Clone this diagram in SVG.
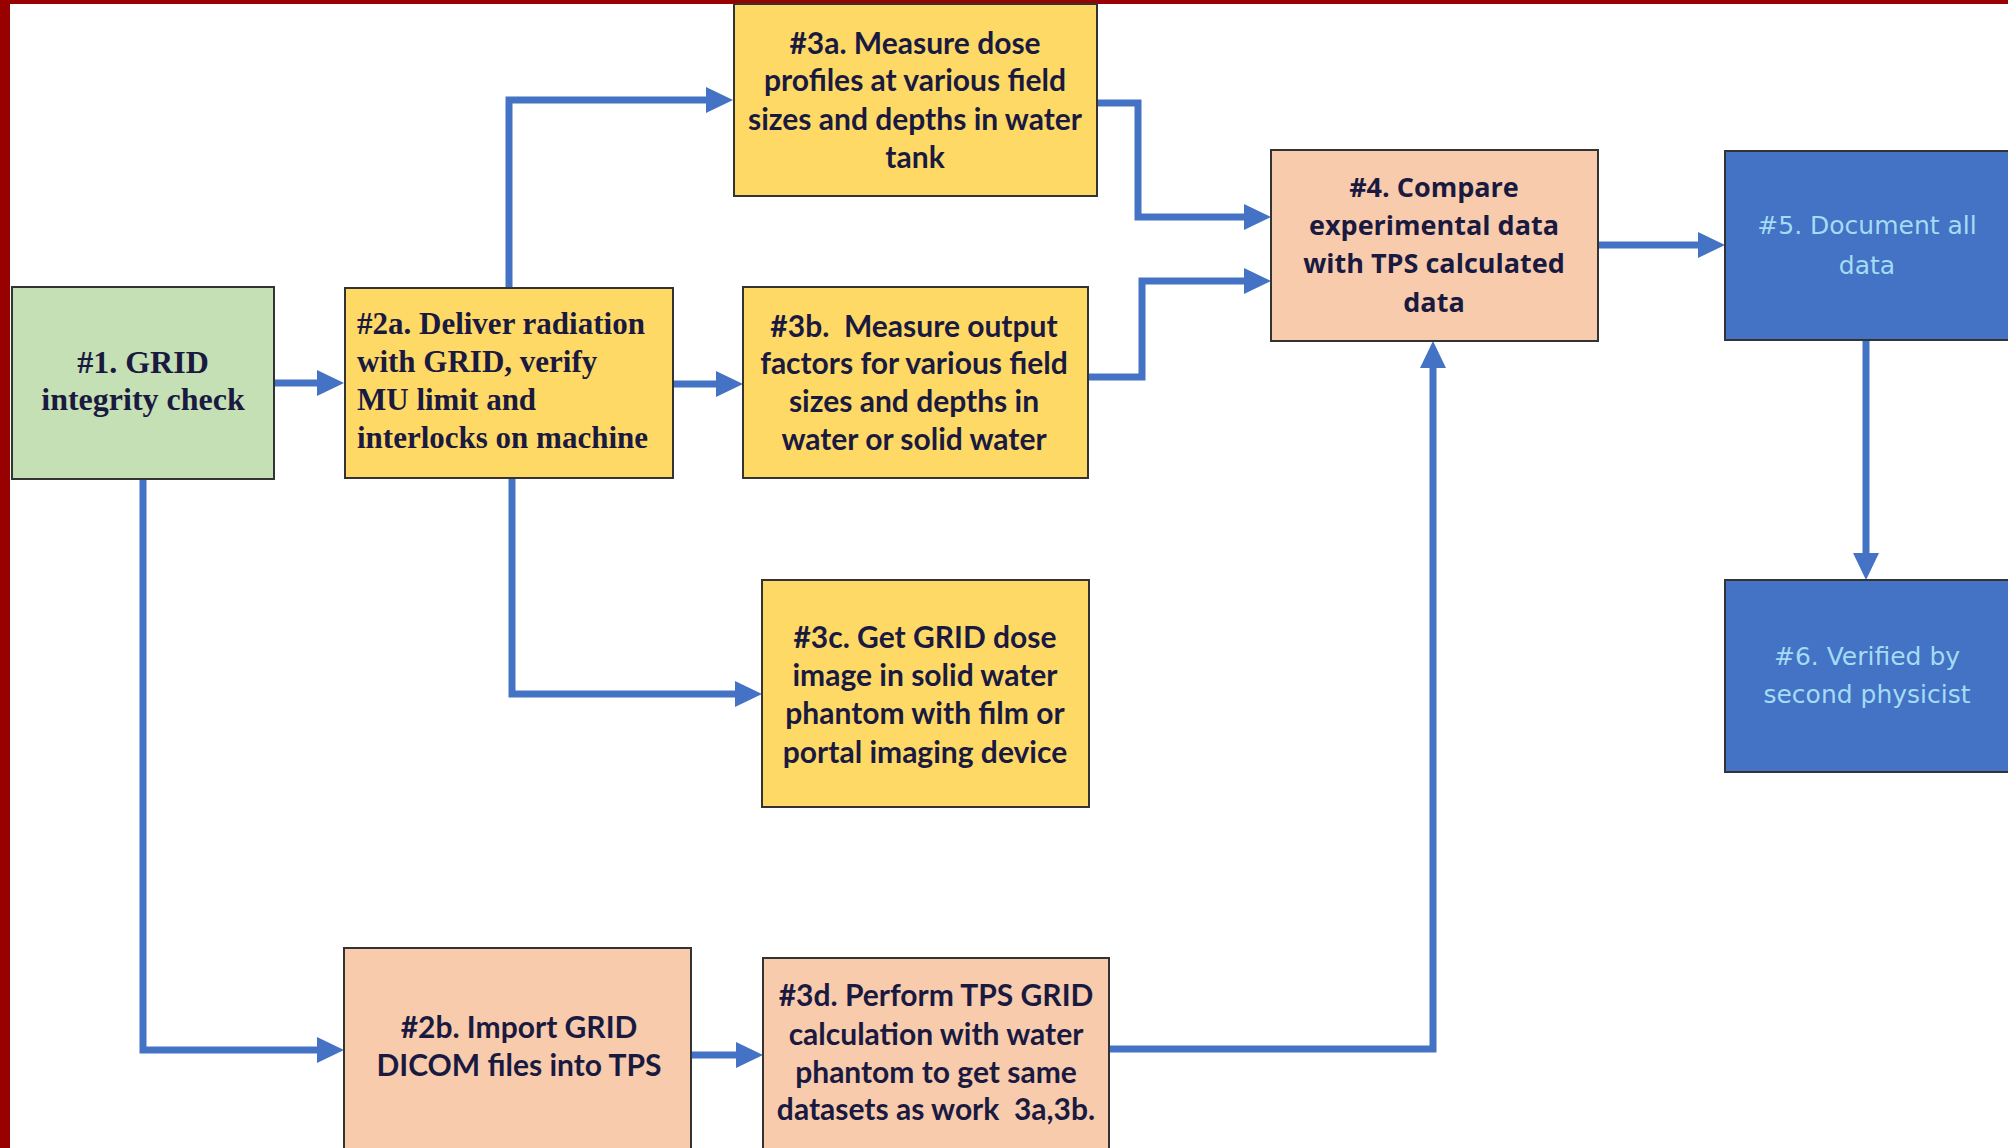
<svg xmlns="http://www.w3.org/2000/svg" width="2008" height="1148" viewBox="0 0 2008 1148">
<defs>
<style>
.box{stroke:#333333;stroke-width:2}
.green{fill:#c5e0b4}
.yellow{fill:#ffd966}
.peach{fill:#f8cbad}
.blue{fill:#4472c4}
.serif{font-family:"Liberation Serif","Times New Roman",serif;font-weight:bold;fill:#1a1a40}
.cal{font-family:Lato,"Liberation Sans",sans-serif;font-weight:bold;font-size:30px;fill:#1a1a40;text-anchor:middle}
.tah{font-family:"Open Sans","Liberation Sans",sans-serif;font-weight:bold;font-size:27px;fill:#1a1a40;text-anchor:middle}
.ver{font-family:"DejaVu Sans","Liberation Sans",sans-serif;font-size:25px;fill:#a3dcf5;text-anchor:middle}
.conn{fill:none;stroke:#4472c4;stroke-width:7;marker-end:url(#arr)}
</style>
<marker id="arr" markerUnits="userSpaceOnUse" markerWidth="27" markerHeight="26" viewBox="0 0 27 26" refX="0" refY="13" orient="auto">
<path d="M0,0 L27,13 L0,26 Z" fill="#4472c4"/>
</marker>
</defs>
<rect x="0" y="0" width="2008" height="1148" fill="#ffffff"/>
<rect x="0" y="0" width="10" height="1148" fill="#990000"/>
<rect x="0" y="0" width="2008" height="4" fill="#990000"/>

<g id="connectors">
<path class="conn" d="M274,383 H317"/>
<path class="conn" d="M509,288 V100 H706"/>
<path class="conn" d="M673,384 H716"/>
<path class="conn" d="M512,478 V694 H735"/>
<path class="conn" d="M143,479 V1050 H317"/>
<path class="conn" d="M691,1055 H736"/>
<path class="conn" d="M1097,103 H1138 V217 H1244"/>
<path class="conn" d="M1088,377 H1142 V281 H1244"/>
<path class="conn" d="M1109,1049 H1433 V368"/>
<path class="conn" d="M1598,245 H1698"/>
<path class="conn" d="M1866,340 V553"/>
</g>

<g id="n1">
<rect class="box green" x="12" y="287" width="262" height="192"/>
<text class="serif" font-size="32" text-anchor="middle"><tspan x="143" y="373">#1. GRID</tspan><tspan x="143" y="410">integrity check</tspan></text>
</g>

<g id="n2a">
<rect class="box yellow" x="345" y="288" width="328" height="190"/>
<text class="serif" font-size="31"><tspan x="357" y="334">#2a. Deliver radiation</tspan><tspan x="357" y="372">with GRID, verify</tspan><tspan x="357" y="410">MU limit and</tspan><tspan x="357" y="448">interlocks on machine</tspan></text>
</g>

<g id="n3a">
<rect class="box yellow" x="734" y="4" width="363" height="192"/>
<text class="cal"><tspan x="915" y="54">#3a. Measure dose</tspan><tspan x="915" y="91">profiles at various field</tspan><tspan x="915" y="129.5">sizes and depths in water</tspan><tspan x="915" y="168">tank</tspan></text>
</g>

<g id="n3b">
<rect class="box yellow" x="743" y="287" width="345" height="191"/>
<text class="cal" xml:space="preserve"><tspan x="914" y="337">#3b.  Measure output</tspan><tspan x="914" y="374">factors for various field</tspan><tspan x="914" y="412">sizes and depths in</tspan><tspan x="914" y="450">water or solid water</tspan></text>
</g>

<g id="n3c">
<rect class="box yellow" x="762" y="580" width="327" height="227"/>
<text class="cal"><tspan x="925" y="647.5">#3c. Get GRID dose</tspan><tspan x="925" y="686">image in solid water</tspan><tspan x="925" y="724">phantom with film or</tspan><tspan x="925" y="763">portal imaging device</tspan></text>
</g>

<g id="n2b">
<rect class="box peach" x="344" y="948" width="347" height="212"/>
<text class="cal"><tspan x="519" y="1038">#2b. Import GRID</tspan><tspan x="519" y="1076">DICOM files into TPS</tspan></text>
</g>

<g id="n3d">
<rect class="box peach" x="763" y="958" width="346" height="202"/>
<text class="cal" xml:space="preserve"><tspan x="936" y="1006">#3d. Perform TPS GRID</tspan><tspan x="936" y="1045">calculation with water</tspan><tspan x="936" y="1083">phantom to get same</tspan><tspan x="936" y="1120">datasets as work  3a,3b.</tspan></text>
</g>

<g id="n4">
<rect class="box peach" x="1271" y="150" width="327" height="191"/>
<text class="tah"><tspan x="1434" y="197">#4. Compare</tspan><tspan x="1434" y="235">experimental data</tspan><tspan x="1434" y="273">with TPS calculated</tspan><tspan x="1434" y="312">data</tspan></text>
</g>

<g id="n5">
<rect class="box blue" x="1725" y="151" width="292" height="189"/>
<text class="ver"><tspan x="1867" y="234">#5. Document all</tspan><tspan x="1867" y="274">data</tspan></text>
</g>

<g id="n6">
<rect class="box blue" x="1725" y="580" width="292" height="192"/>
<text class="ver"><tspan x="1867" y="665">#6. Verified by</tspan><tspan x="1867" y="703">second physicist</tspan></text>
</g>
</svg>
